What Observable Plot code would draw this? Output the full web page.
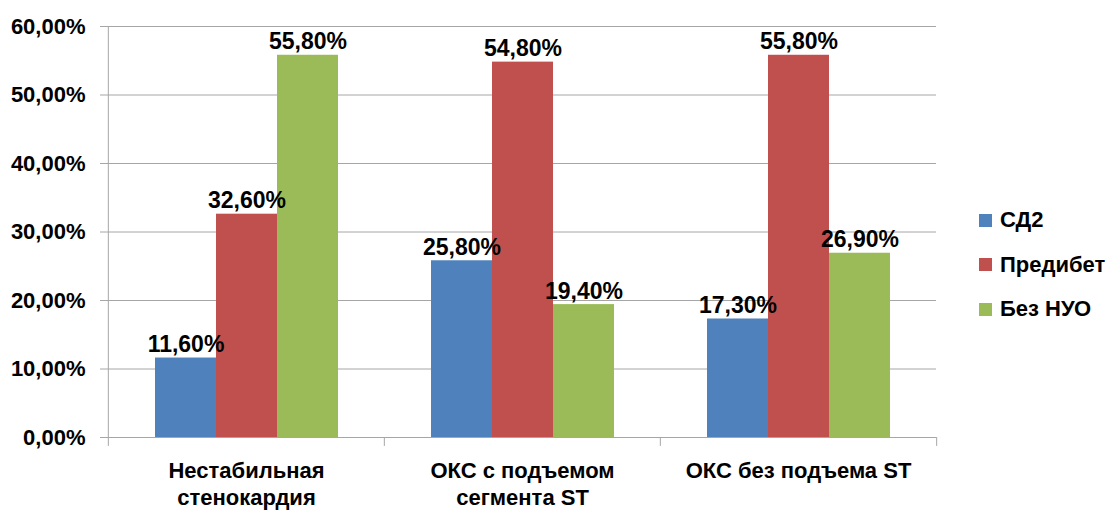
<!DOCTYPE html>
<html><head><meta charset="utf-8">
<script src="https://cdn.jsdelivr.net/npm/d3@7"></script>
<script src="https://cdn.jsdelivr.net/npm/@observablehq/plot@0.6"></script>
<style>
body{margin:0;background:#fff;}
#wrap{position:relative;width:1110px;height:510px;font-family:"Liberation Sans",Arial,sans-serif;font-weight:bold;color:#000;}
#legend{position:absolute;left:979px;top:198px;}
.item{display:flex;align-items:center;height:44.5px;font-size:22px;}
.sw{width:13px;height:13px;margin-right:8px;}
</style></head><body><div id="wrap"><div id="legend"></div></div>
<script>
const groups = ["Нестабильная\nстенокардия", "ОКС с подъемом\nсегмента ST", "ОКС без подъема ST"];
const series = ["СД2", "Предибет", "Без НУО"];
const sd2 = [11.6, 25.8, 17.3];
const prediabet = [32.6, 54.8, 55.8];
const bezNuo = [55.8, 19.4, 26.9];
const yTicks = [0, 10, 20, 30, 40, 50, 60];
const colors = ["#4F81BD", "#C0504D", "#9BBB59"];

const W = 1110, H = 510, mL = 107, mR = 174, mT = 26, mB = 73;
const fw = (W - mL - mR) / groups.length;
const fmt = v => v.toFixed(2).replace(".", ",") + "%";
const seriesValues = [sd2, prediabet, bezNuo];
const data = groups.flatMap((g, i) => series.map((s, j) => ({group: g, series: s, value: seriesValues[j][i]})));
const font = '"Liberation Sans",Arial,sans-serif';
const gray = "#a6a6a6";

const chart = Plot.plot({
  width: W, height: H, marginLeft: mL, marginRight: mR, marginTop: mT, marginBottom: mB,
  style: {fontFamily: font, fontWeight: "bold", color: "#000", background: "#fff"},
  fx: {domain: groups, padding: 0, label: null},
  x: {domain: series, paddingInner: 0, paddingOuter: 0.754, axis: null},
  y: {domain: [0, 60]},
  color: {domain: series, range: colors},
  marks: [
    Plot.gridY(yTicks, {stroke: gray, strokeOpacity: 1}),
    Plot.axisY(yTicks, {tickFormat: fmt, tickSize: 8, tickPadding: 15, stroke: gray, fontSize: 22, label: null}),
    Plot.axisFx({anchor: "bottom", tickSize: 0, tickPadding: 22, fontSize: 22, lineHeight: 1.2, label: null}),
    Plot.barY(data, {fx: "group", x: "series", y: "value", fill: "series"}),
    Plot.ruleY([0], {stroke: gray}),
    Plot.ruleX([groups[0]], {fx: d => d, x: null, y1: 0, y2: 60, dx: -fw / 2, stroke: gray}),
    Plot.ruleX(groups, {fx: d => d, x: null, y1: 0, y2: -1.3, dx: -fw / 2, stroke: gray}),
    Plot.ruleX([groups[groups.length - 1]], {fx: d => d, x: null, y1: 0, y2: -1.3, dx: fw / 2, stroke: gray}),
    Plot.text(data, {fx: "group", x: "series", y: "value", text: d => fmt(d.value), lineAnchor: "bottom", dy: -6, fontSize: 23, fill: "#000"})
  ]
});
document.getElementById("wrap").prepend(chart);
chart.style.position = "absolute"; chart.style.left = "0"; chart.style.top = "0";

const legend = document.getElementById("legend");
series.forEach((s, i) => {
  const it = document.createElement("div");
  it.className = "item";
  const sw = document.createElement("div");
  sw.className = "sw"; sw.style.background = colors[i];
  const t = document.createElement("span");
  t.textContent = s;
  it.append(sw, t);
  legend.append(it);
});
</script>
</body></html>
